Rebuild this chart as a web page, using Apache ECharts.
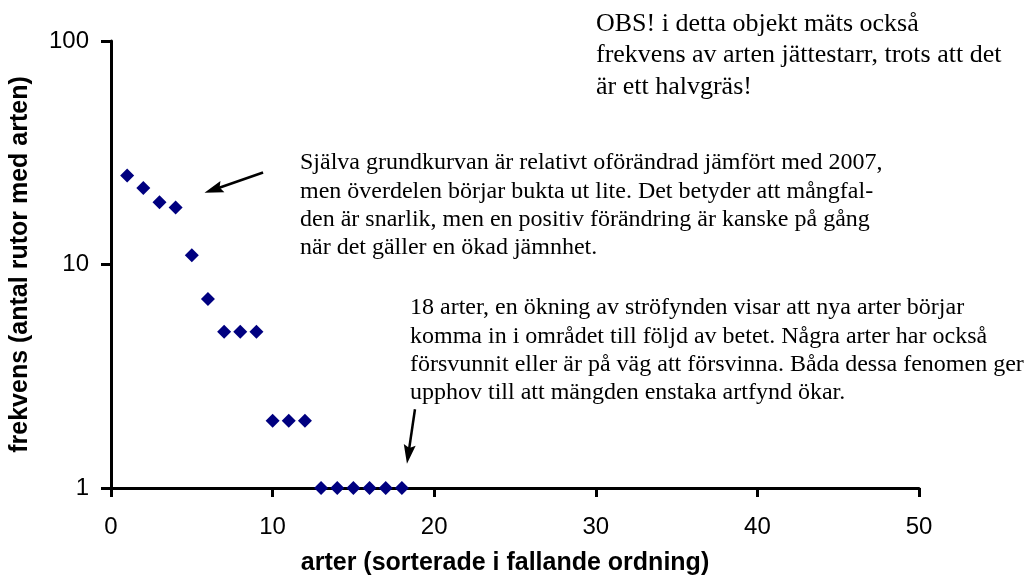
<!DOCTYPE html>
<html>
<head>
<meta charset="utf-8">
<script src="https://cdn.jsdelivr.net/npm/echarts@6/dist/echarts.min.js"></script>
<style>html,body{margin:0;padding:0;background:#fff;}#c{width:1028px;height:583px;}</style>
</head>
<body>
<div id="c"></div>
<script>
// species rank (sorted by falling frequency)
const ranks = [1,2,3,4,5,6,7,8,9,10,11,12,13,14,15,16,17,18];
// frequency (number of plots with the species)
const freq = [25,22,19,18,11,7,5,5,5,2,2,2,1,1,1,1,1,1];
const xTicks = [0,10,20,30,40,50];
const yTicks = [1,10,100];
const xName = 'arter (sorterade i fallande ordning)';
const yName = 'frekvens (antal rutor med arten)';
// arrows in data coordinates: [from, arrow-head centre]
const arrow1 = [[9.41, 25.8], [6.34, 21.6]];
const arrow2 = [[18.81, 2.25], [18.40, 1.415]];
const note1 = ['OBS! i detta objekt mäts också', 'frekvens av arten jättestarr, trots att det', 'är ett halvgräs!'];
const note2 = ['Själva grundkurvan är relativt oförändrad jämfört med 2007,', 'men överdelen börjar bukta ut lite. Det betyder att mångfal-', 'den är snarlik, men en positiv förändring är kanske på gång', 'när det gäller en ökad jämnhet.'];
const note3 = ['18 arter, en ökning av ströfynden visar att nya arter börjar', 'komma in i området till följd av betet. Några arter har också', 'försvunnit eller är på väg att försvinna. Båda dessa fenomen ger', 'upphov till att mängden enstaka artfynd ökar.'];

const chart = echarts.init(document.getElementById('c'), null, {renderer: 'canvas'});
const serif = '"Liberation Serif", "Times New Roman", serif';
const sans = '"Liberation Sans", Arial, sans-serif';
const arrowPath = 'path://M6,0 L12,19 L6,16 L0,19 Z';

chart.setOption({
  animation: false,
  backgroundColor: '#ffffff',
  grid: {left: 111, right: 109, top: 41, bottom: 95, containLabel: false},
  xAxis: {
    type: 'value', min: xTicks[0], max: xTicks[xTicks.length-1], interval: 10,
    name: xName, nameLocation: 'middle', nameGap: 63,
    nameTextStyle: {fontFamily: sans, fontSize: 25, fontWeight: 'bold', color: '#000', padding: [0, 20, 0, 0]},
    axisLine: {onZero: false, lineStyle: {color: '#000', width: 3}},
    axisTick: {length: 9, lineStyle: {color: '#000', width: 3}},
    axisLabel: {fontFamily: sans, fontSize: 24, color: '#000', margin: 27},
    splitLine: {show: false}
  },
  yAxis: {
    type: 'log', logBase: 10, min: yTicks[0], max: yTicks[yTicks.length-1],
    name: yName, nameLocation: 'middle', nameGap: 78,
    nameTextStyle: {fontFamily: sans, fontSize: 25, fontWeight: 'bold', color: '#000'},
    axisLine: {lineStyle: {color: '#000', width: 3}},
    axisTick: {length: 10, lineStyle: {color: '#000', width: 3}},
    axisLabel: {fontFamily: sans, fontSize: 24, color: '#000', margin: 22},
    splitLine: {show: false},
    minorTick: {show: false}
  },
  series: [{
    type: 'scatter',
    data: ranks.map((r, i) => [r, freq[i]]),
    symbol: 'diamond',
    symbolSize: 14,
    itemStyle: {color: '#000080', opacity: 1},
    silent: true,
    z: 5,
    markLine: {
      silent: true,
      animation: false,
      symbol: ['none', arrowPath],
      symbolSize: 19,
      symbolKeepAspect: true,
      label: {show: false},
      lineStyle: {color: '#000', width: 2.5, type: 'solid', opacity: 1},
      emphasis: {disabled: true},
      data: [
        [{coord: arrow1[0]}, {coord: arrow1[1]}],
        [{coord: arrow2[0]}, {coord: arrow2[1]}]
      ]
    }
  }],
  graphic: [
    {type: 'text', left: 596, top: 8, silent: true,
     style: {text: note1.join('\n'), font: '26px ' + serif, fill: '#000', lineHeight: 31.7}},
    {type: 'text', left: 300, top: 149, silent: true,
     style: {text: note2.join('\n'), font: '24px ' + serif, fill: '#000', lineHeight: 28.3}},
    {type: 'text', left: 410, top: 294, silent: true,
     style: {text: note3.join('\n'), font: '24px ' + serif, fill: '#000', lineHeight: 28.3}}
  ]
});
</script>
</body>
</html>
